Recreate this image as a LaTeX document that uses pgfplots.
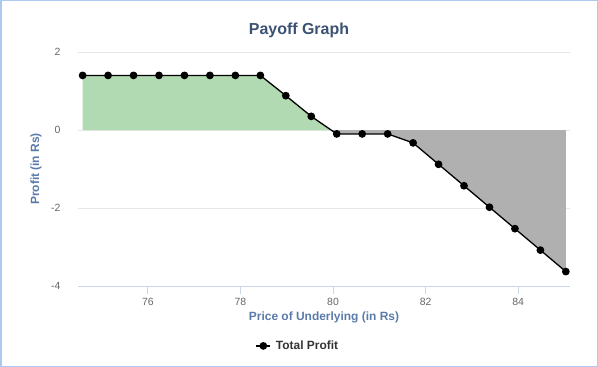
\documentclass[border=0pt]{standalone}
\usepackage{pgfplots}
\pgfplotsset{compat=1.18}
\usepackage{fontspec}
\setmainfont{Liberation Sans}
\definecolor{frameblue}{RGB}{172,202,240}
\definecolor{titlecol}{RGB}{59,82,114}
\definecolor{labcol}{RGB}{90,122,170}
\definecolor{tickcol}{RGB}{102,102,102}
\definecolor{gridcol}{RGB}{230,230,230}
\definecolor{axcol}{RGB}{204,214,235}
\definecolor{greenfill}{RGB}{178,218,178}
\definecolor{grayfill}{RGB}{176,176,176}
\begin{document}
\begin{tikzpicture}
\draw[frameblue, line width=1.5bp] (0.75bp,0.75bp) rectangle (597.25bp,366.25bp);
\node[font=\bfseries\fontsize{16}{18}\selectfont, text=titlecol] at (299bp,337bp) {Payoff Graph};
\begin{axis}[
  at={(78bp,81bp)}, anchor=south west,
  scale only axis, width=492bp, height=234bp,
  xmin=74.49, xmax=85.12, ymin=-4, ymax=2,
  xtick={76,78,80,82,84}, ytick={-4,-2,0,2},
  axis x line*=bottom, axis y line*=left,
  x axis line style={draw=axcol, line width=0.8bp},
  y axis line style={draw=none},
  xtick style={draw=axcol, line width=0.8bp},
  ytick style={draw=none},
  tick align=outside, major tick length=8bp,
  ymajorgrids, grid style={draw=gridcol, line width=0.8bp},
  /pgf/number format/assume math mode=true,
  ticklabel style={font=\fontsize{10.5}{12}\selectfont, text=tickcol},
  xticklabel style={yshift=-1bp},
  yticklabel style={xshift=-6bp},
  xlabel={Price of Underlying (in Rs)},
  ylabel={Profit (in Rs)},
  xlabel style={font=\bfseries\fontsize{12}{14}\selectfont, text=labcol, at={(axis description cs:0.5,0)}, anchor=center, yshift=-31bp},
  ylabel style={font=\bfseries\fontsize{12}{14}\selectfont, text=labcol, at={(axis description cs:-0.0854,0.5)}, anchor=center},
  legend style={at={(axis description cs:0.447,-0.256)}, anchor=center, draw=none, fill=none,
    font=\bfseries\fontsize{12}{14}\selectfont, text=black!80},
  legend image code/.code={\draw[mark repeat=2,mark phase=2,#1] plot coordinates {(0bp,0bp) (7bp,0bp) (14bp,0bp)};},
  legend cell align=left,
  clip=false,
]
\addplot[fill=greenfill, draw=none, forget plot] coordinates {
(74.59,0) (74.59,1.4) (75.14,1.4) (75.69,1.4) (76.24,1.4) (76.79,1.4) (77.34,1.4) (77.89,1.4) (78.43,1.4)
(78.98,0.88) (79.53,0.35) (79.96,0)} -- cycle;
\addplot[fill=grayfill, draw=none, forget plot] coordinates {
(79.96,0) (80.08,-0.1) (80.63,-0.1) (81.18,-0.1) (81.73,-0.33) (82.28,-0.88) (82.83,-1.43)
(83.38,-1.98) (83.93,-2.53) (84.48,-3.08) (85.03,-3.63) (85.03,0)} -- cycle;
\addplot[black, line width=1.3bp, mark=*, mark size=3.2bp] coordinates {
(74.59,1.4) (75.14,1.4) (75.69,1.4) (76.24,1.4) (76.79,1.4) (77.34,1.4) (77.89,1.4) (78.43,1.4)
(78.98,0.88) (79.53,0.35) (80.08,-0.1) (80.63,-0.1) (81.18,-0.1) (81.73,-0.33) (82.28,-0.88) (82.83,-1.43)
(83.38,-1.98) (83.93,-2.53) (84.48,-3.08) (85.03,-3.63)};
\addlegendentry{\hspace{3bp}Total Profit}
\end{axis}
\end{tikzpicture}
\end{document}
